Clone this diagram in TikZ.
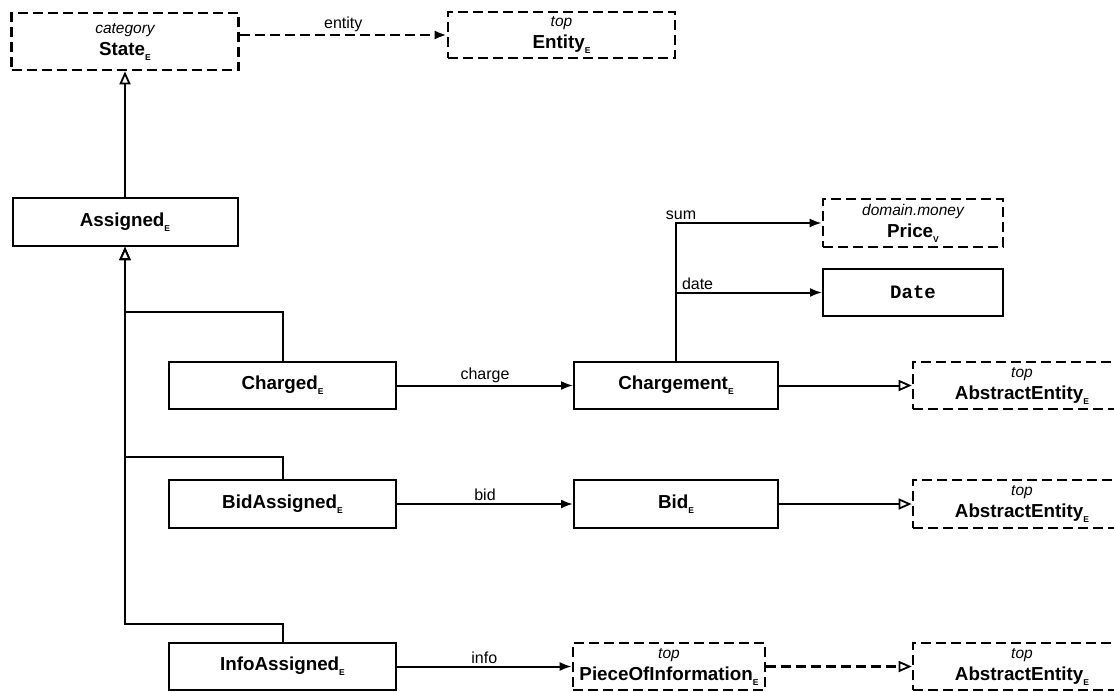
\documentclass[tikz,border=0pt]{standalone}
\usepackage{fontspec}
\setmainfont{Liberation Sans}
\setmonofont{Liberation Mono}
\usetikzlibrary{arrows.meta}

\newcommand{\stereo}[1]{{\mdseries\itshape\fontsize{15.5}{22}\selectfont #1}}
\newcommand{\cname}[2]{#1\raisebox{-5pt}{\fontsize{8.5}{8.5}\selectfont #2}}

\begin{document}
\begin{tikzpicture}[x=1pt, y=-1pt,
    cls/.style={draw, line width=2pt, inner sep=0pt, align=center,
      minimum width=227pt, minimum height=48pt,
      font=\bfseries\fontsize{18.8}{22}\selectfont},
    ext/.style={cls, line width=2.7pt, dash pattern=on 10pt off 5pt},
    lbl/.style={font=\fontsize{16}{18}\selectfont, inner sep=2pt},
    assoc/.style={line width=2pt, -{Latex[length=12pt, width=9pt]}},
    isa/.style={line width=2pt, -{Triangle[open, fill=white, length=13pt, width=11pt, line width=1.8pt]}}]
    \useasboundingbox (0, 0) rectangle (1114, 691);
    \clip (0, 0) rectangle (1114, 691);

    \node [ext, minimum height=57pt] (state) at (125, 41.5) {\stereo{category}\\\cname{State}{E}};
    \node [ext, minimum height=46pt] (entity) at (561.5, 35) {\stereo{top}\\\cname{Entity}{E}};
    \node [cls, minimum width=225pt] (assigned) at (125, 222) {\cname{Assigned}{E}};

    \node [cls, minimum height=47pt] (charged) at (282.5, 385.5) {\cname{Charged}{E}};
    \node [cls, minimum width=204pt, minimum height=47pt] (chargement) at (676, 385.5) {\cname{Chargement}{E}};
    \node [ext, minimum width=180pt] (price) at (913, 223) {\stereo{domain.money}\\\cname{Price}{V}};
    \node [cls, minimum width=180pt, minimum height=47pt] (date) at (913, 292.5) {\ttfamily\bfseries\fontsize{19}{22}\selectfont Date};
    \node [ext, minimum width=218pt, minimum height=47pt] (absA) at (1022, 385.5) {\stereo{top}\\\cname{AbstractEntity}{E}};

    \node [cls] (bidassigned) at (282.5, 504) {\cname{BidAssigned}{E}};
    \node [cls, minimum width=204pt] (bid) at (676, 504) {\cname{Bid}{E}};
    \node [ext, minimum width=218pt] (absB) at (1022, 504) {\stereo{top}\\\cname{AbstractEntity}{E}};

    \node [cls, minimum height=47pt] (infoassigned) at (282.5, 666.5) {\cname{InfoAssigned}{E}};
    \node [ext, minimum width=192pt, minimum height=47pt] (piece) at (669, 666.5) {\stereo{top}\\\cname{PieceOfInformation}{E}};
    \node [ext, minimum width=218pt, minimum height=47pt] (absC) at (1022, 666.5) {\stereo{top}\\\cname{AbstractEntity}{E}};

    \draw [assoc, dash pattern=on 10pt off 5pt, line width=2.7pt] (state.east |- entity.west) -- node [lbl, above] {entity} (entity.west);
    \draw [isa] (assigned.north) -- (state.south);

    \draw [isa] (charged.north) -- ++(0, -49) -| (assigned.south);
    \draw [isa] (bidassigned.north) -- ++(0, -22) -| (assigned.south);
    \draw [isa] (infoassigned.north) -- ++(0, -18) -| (assigned.south);

    \draw [assoc] (charged) -- node [lbl, above] {charge} (chargement);
    \draw [assoc] (bidassigned) -- node [lbl, above] {bid} (bid);
    \draw [assoc] (infoassigned) -- node [lbl, above] {info} (piece);

    \draw [assoc] (chargement.north) |- node [lbl, above, pos=0.5, xshift=5pt] {sum} (price.west);
    \draw [assoc] (chargement.north) |- node [lbl, above right, pos=0.5, xshift=3pt] {date} (date.west);

    \draw [isa] (chargement) -- (absA);
    \draw [isa] (bid) -- (absB);
    \draw [isa, dash pattern=on 10pt off 5pt, line width=2.7pt] (piece) -- (absC);
\end{tikzpicture}
\end{document}
